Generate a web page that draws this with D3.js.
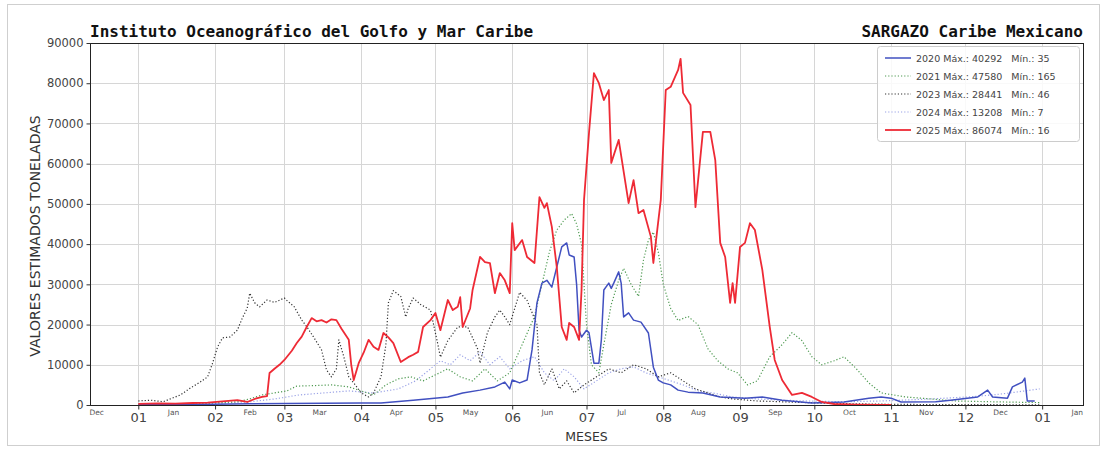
<!DOCTYPE html>
<html>
<head>
<meta charset="utf-8">
<script src="https://cdn.jsdelivr.net/npm/d3@7"></script>
<style>
  body { margin: 0; background: #fff; }
  svg { display: block; }
</style>
</head>
<body>
<svg id="chart" width="1104" height="449"></svg>
<script>
// ---- axis ticks (day of year, 0 = 1 January) ----
const yTicks = [0, 10000, 20000, 30000, 40000, 50000, 60000, 70000, 80000, 90000];
const monthStartDays = [0, 31, 59, 90, 120, 151, 181, 212, 243, 273, 304, 334, 365];
const monthLabels = ["01", "02", "03", "04", "05", "06", "07", "08", "09", "10", "11", "12", "01"];
const midMonthDays = [-17, 14, 45, 73, 104, 134, 165, 195, 226, 257, 287, 318, 348, 379];
const midMonthLabels = ["Dec", "Jan", "Feb", "Mar", "Apr", "May", "Jun", "Jul", "Aug", "Sep", "Oct", "Nov", "Dec", "Jan"];

// ---- estimated sargassum tonnage, [day of year, tonnes] ----
const s2020 = [[0,35],[15,100],[30,200],[45,300],[60,400],[75,450],[90,500],[98,500],[111,1200],[125,2000],[131,3000],[138,3700],[144,4500],[148,5700],[150,4000],[151,6200],[154,5500],[157,6200],[159,13700],[161,25400],[163,30300],[165,31000],[167,29300],[169,34300],[171,39300],[173,40292],[174,37300],[176,36800],[177,30000],[178,18600],[179,16900],[181,18600],[182,18000],[184,10400],[186,10400],[187,16200],[188,28600],[190,30300],[191,29000],[192,30300],[194,33100],[195,30300],[196,21900],[198,22900],[200,21100],[203,20600],[206,17900],[208,9400],[210,6200],[212,5500],[215,5000],[218,3700],[222,3200],[228,3000],[235,2000],[245,1700],[252,2000],[260,1200],[272,500],[285,750],[295,1700],[300,2000],[304,1700],[308,750],[322,800],[328,1200],[339,2000],[343,3700],[345,2000],[351,1700],[353,4500],[357,5700],[358,6700],[359,1000],[362,1000]];

const s2021 = [[0,200],[10,300],[20,165],[30,500],[40,800],[45,1500],[50,2500],[55,3000],[60,3500],[64,4700],[70,4800],[78,5000],[85,4500],[90,3500],[95,2500],[100,5000],[105,6500],[110,7000],[115,6000],[120,7500],[125,9000],[130,7000],[135,6000],[140,9000],[145,6000],[150,8000],[155,15000],[160,22000],[163,30000],[166,38000],[169,43500],[172,46000],[175,47580],[177,45000],[179,40000],[181,20000],[183,10000],[186,8000],[188,15000],[191,25000],[194,31000],[196,34000],[199,30000],[202,27000],[204,36000],[206,41000],[208,43000],[210,38000],[212,30000],[215,24000],[218,21000],[222,22000],[226,20000],[230,14000],[234,11000],[238,9000],[242,8000],[246,5000],[250,6000],[255,12000],[260,15000],[264,18000],[268,16000],[272,12000],[276,10000],[281,11000],[285,12000],[290,9000],[295,5500],[300,3000],[310,2000],[320,1500],[330,1000],[345,800],[364,600]];

const s2023 = [[0,1000],[5,1200],[10,800],[17,2500],[21,4200],[25,5700],[28,7000],[30,10400],[32,14400],[34,16700],[37,16900],[40,18600],[42,21600],[44,24100],[45,27800],[47,25400],[49,24400],[52,26100],[55,25500],[59,26600],[60,26000],[63,24400],[66,21100],[68,19500],[71,16700],[74,13700],[76,8700],[78,7000],[80,9000],[81,16200],[83,12000],[85,7000],[87,5500],[90,3000],[93,2000],[95,3000],[98,7000],[100,15000],[101,25400],[103,28441],[106,27000],[108,21900],[109,24000],[111,26600],[114,25000],[118,23600],[121,15000],[122,11900],[125,16000],[129,19400],[133,19400],[137,14000],[138,10400],[141,18000],[144,21900],[146,23600],[148,21900],[150,20000],[152,24000],[154,28000],[157,26000],[161,20000],[162,8000],[164,5000],[167,9000],[170,4000],[173,6000],[176,3000],[180,5000],[185,7000],[190,9000],[195,8000],[200,10000],[205,9000],[210,7000],[215,8000],[220,6000],[225,4000],[230,3000],[235,2000],[240,1500],[250,1000],[260,800],[270,600],[280,400],[300,200],[320,100],[340,80],[364,46]];

const s2024 = [[0,7],[15,100],[30,300],[45,800],[55,1500],[65,2500],[75,3000],[85,3500],[95,3000],[105,4000],[112,6000],[118,9000],[122,11000],[126,10000],[130,12500],[134,11000],[138,13208],[142,10000],[146,12000],[150,9000],[155,11000],[160,12000],[164,8000],[168,6000],[172,9000],[176,7000],[180,4000],[185,6000],[190,8000],[195,9000],[200,9500],[205,8000],[210,7000],[215,6000],[220,5000],[226,3500],[232,3000],[240,2000],[250,1500],[260,1200],[270,1000],[285,800],[300,1000],[320,1500],[335,2000],[345,2500],[352,3000],[358,3500],[364,4000]];

const s2025 = [[0,300],[8,400],[15,350],[22,500],[28,600],[34,900],[40,1200],[44,750],[47,1500],[50,2000],[52,2200],[53,7960],[55,9000],[57,10000],[59,11200],[62,13500],[64,15400],[66,17000],[68,19400],[70,21600],[72,20800],[74,21100],[76,20500],[78,21300],[80,21100],[82,19000],[85,16200],[86,10000],[87,6200],[89,10400],[91,13000],[93,16200],[95,14500],[97,13700],[99,17900],[101,16800],[103,15400],[106,10700],[109,11900],[111,12500],[113,13200],[115,19400],[118,21100],[120,22900],[122,18600],[125,26100],[127,23600],[129,24400],[130,26800],[131,19400],[134,24000],[135,28600],[138,36800],[140,35500],[142,35300],[144,27800],[146,32800],[148,31000],[150,27800],[151,45200],[152,38500],[155,41000],[157,36800],[160,35300],[162,51700],[164,49000],[165,50200],[167,44300],[169,34300],[171,19400],[173,16200],[174,20400],[176,19400],[178,16200],[179,28600],[180,51000],[182,67600],[184,82500],[186,80000],[188,75800],[190,78300],[191,60200],[194,65900],[198,50200],[200,55900],[202,47700],[204,48500],[207,41800],[208,35300],[211,51000],[213,78300],[215,79100],[218,83300],[219,86074],[220,77600],[223,74600],[225,49200],[228,67900],[231,67900],[233,60900],[235,40300],[237,36800],[239,25400],[240,30300],[241,25400],[243,39300],[245,40300],[247,45200],[249,43500],[252,33600],[255,19400],[257,11200],[260,6200],[264,2500],[268,3000],[272,2000],[276,750],[281,250],[290,100],[300,50],[304,16]];

const seriesYears = ["2020", "2021", "2023", "2024", "2025"];
const seriesData = [s2020, s2021, s2023, s2024, s2025];

// ---- styles per series ----
const styles = [
  { color: "#4150c0", width: 1.5, dash: null },
  { color: "#4f9a52", width: 1.2, dash: "1.2,2" },
  { color: "#333333", width: 1.2, dash: "1.2,2" },
  { color: "#9aa2e6", width: 1.2, dash: "1.2,2" },
  { color: "#ee2a35", width: 1.8, dash: null }
];
const drawOrder = [3, 2, 1, 0, 4];

const svg = d3.select("#chart");
const W = 1104, H = 449;
const plot = { left: 90, right: 1083, top: 43, bottom: 405 };

// outer frame of the figure
svg.append("rect").attr("x", 7.5).attr("y", 4.5).attr("width", W - 12).attr("height", H - 8)
  .attr("fill", "none").attr("stroke", "#cfcfcf");

const x = d3.scaleLinear().domain([-19.5, 381.5]).range([plot.left, plot.right]);
const y = d3.scaleLinear().domain([0, 90000]).range([plot.bottom, plot.top]);

// grid
const grid = svg.append("g").attr("stroke", "#d6d6d6").attr("stroke-width", 1);
grid.selectAll("line.h").data(yTicks).join("line")
  .attr("x1", plot.left).attr("x2", plot.right)
  .attr("y1", d => Math.round(y(d)) + 0.5).attr("y2", d => Math.round(y(d)) + 0.5);
grid.selectAll("line.v").data(monthStartDays).join("line")
  .attr("y1", plot.top).attr("y2", plot.bottom)
  .attr("x1", d => Math.round(x(d)) + 0.5).attr("x2", d => Math.round(x(d)) + 0.5);

// lines
const line = d3.line().x(d => x(d[0])).y(d => y(d[1]));
const lines = svg.append("g");
drawOrder.forEach(i => {
  const st = styles[i];
  lines.append("path").datum(seriesData[i])
    .attr("fill", "none").attr("stroke", st.color).attr("stroke-width", st.width)
    .attr("stroke-dasharray", st.dash).attr("stroke-linejoin", "round")
    .attr("d", line);
});

// frame
svg.append("rect").attr("x", plot.left + 0.5).attr("y", plot.top + 0.5)
  .attr("width", plot.right - plot.left).attr("height", plot.bottom - plot.top)
  .attr("fill", "none").attr("stroke", "#222").attr("stroke-width", 1);

// y axis
const yAxis = svg.append("g").attr("transform", `translate(${plot.left + 0.5},0)`)
  .call(d3.axisLeft(y).tickValues(yTicks).tickSize(4).tickPadding(3).tickFormat(d3.format("d")));
yAxis.select(".domain").remove();
yAxis.selectAll("line").attr("stroke", "#333");
yAxis.selectAll("text").attr("font-family", "DejaVu Sans, sans-serif").attr("font-size", 11.5).attr("fill", "#444");

// x axis: month numbers at month starts
const xAxis = svg.append("g").attr("transform", `translate(0,${plot.bottom + 0.5})`)
  .call(d3.axisBottom(x).tickValues(monthStartDays).tickSize(4).tickPadding(3)
    .tickFormat((d, i) => monthLabels[i]));
xAxis.select(".domain").remove();
xAxis.selectAll("line").attr("stroke", "#333");
xAxis.selectAll("text").attr("font-family", "DejaVu Sans, sans-serif").attr("font-size", 13).attr("fill", "#444");

// x axis: month names at mid-month
const xMinor = svg.append("g").attr("transform", `translate(0,${plot.bottom + 0.5})`)
  .call(d3.axisBottom(x).tickValues(midMonthDays).tickSize(0).tickPadding(4)
    .tickFormat((d, i) => midMonthLabels[i]));
xMinor.select(".domain").remove();
xMinor.selectAll("text").attr("font-family", "DejaVu Sans, sans-serif").attr("font-size", 7.5).attr("fill", "#555");

// axis titles
svg.append("text").attr("x", (plot.left + plot.right) / 2).attr("y", 441)
  .attr("text-anchor", "middle").attr("font-family", "DejaVu Sans, sans-serif")
  .attr("font-size", 12.5).attr("fill", "#333").text("MESES");
svg.append("text").attr("transform", `translate(40,${(plot.top + plot.bottom) / 2 + 12}) rotate(-90)`)
  .attr("text-anchor", "middle").attr("font-family", "DejaVu Sans, sans-serif")
  .attr("font-size", 14).attr("fill", "#333").text("VALORES ESTIMADOS TONELADAS");

// titles
svg.append("text").attr("x", plot.left).attr("y", 37)
  .attr("font-family", "DejaVu Sans Mono, monospace").attr("font-weight", "bold")
  .attr("font-size", 16).attr("fill", "#111").text("Instituto Oceanográfico del Golfo y Mar Caribe");
svg.append("text").attr("x", plot.right).attr("y", 37).attr("text-anchor", "end")
  .attr("font-family", "DejaVu Sans Mono, monospace").attr("font-weight", "bold")
  .attr("font-size", 16).attr("fill", "#111").text("SARGAZO Caribe Mexicano");

// legend
const lg = svg.append("g");
lg.append("rect").attr("x", 877.5).attr("y", 46.5).attr("width", 202).attr("height", 95)
  .attr("rx", 3).attr("fill", "#fff").attr("fill-opacity", 0.85).attr("stroke", "#cccccc");
seriesYears.forEach((yr, i) => {
  const st = styles[i];
  const vals = seriesData[i].map(d => d[1]);
  const ly = 58 + i * 18;
  lg.append("line").attr("x1", 885).attr("x2", 911).attr("y1", ly).attr("y2", ly)
    .attr("stroke", st.color).attr("stroke-width", st.width).attr("stroke-dasharray", st.dash);
  lg.append("text").attr("x", 916).attr("y", ly + 3.5)
    .attr("font-family", "DejaVu Sans, sans-serif").attr("font-size", 9.5).attr("fill", "#444")
    .attr("xml:space", "preserve")
    .text(`${yr} Máx.: ${d3.max(vals)}   Mín.: ${d3.min(vals)}`);
});
</script>
</body>
</html>
